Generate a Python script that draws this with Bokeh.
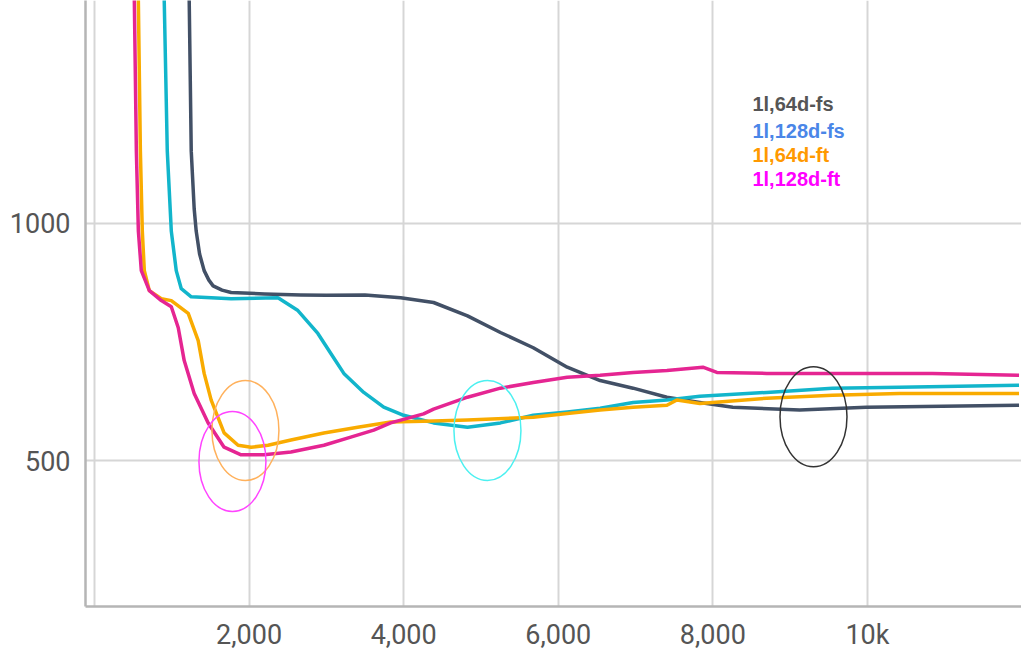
from bokeh.plotting import figure
from bokeh.models import Range1d, FixedTicker, Label
from bokeh.embed import file_html
from bokeh.resources import INLINE

# ---- data ----
dark_x = [1170, 1226, 1252, 1290, 1316, 1360, 1419, 1480, 1535, 1650, 1768, 2200, 2671, 3000, 3500, 3961, 4387, 4826, 5252, 5677, 6116, 6542, 6968, 7406, 7832, 8258, 9123, 9987, 11961]
dark_y = [2000, 1464, 1151, 1030, 983, 935, 900, 880, 868, 859, 854, 851, 849, 848, 849, 843, 833, 805, 770, 738, 697, 669, 653, 634, 623, 613, 607, 613, 617]

cyan_x = [850, 903, 942, 994, 1058, 1123, 1252, 1768, 2374, 2632, 2890, 3058, 3226, 3484, 3742, 4000, 4387, 4826, 5252, 5677, 6116, 6542, 6968, 7406, 7832, 8697, 9548, 10413, 11961]
cyan_y = [2000, 1464, 1151, 983, 900, 862, 845, 841, 843, 816, 768, 726, 684, 644, 613, 596, 580, 571, 580, 596, 603, 611, 623, 628, 636, 644, 653, 655, 659]

orange_x = [520, 568, 594, 619, 645, 710, 865, 994, 1213, 1342, 1419, 1510, 1677, 1858, 2026, 2245, 2542, 2968, 3406, 3832, 4387, 4826, 5677, 6116, 6542, 6968, 7406, 7535, 7832, 8697, 9548, 10413, 11961]
orange_y = [2000, 1464, 1151, 983, 900, 858, 841, 837, 810, 753, 684, 628, 559, 533, 529, 533, 544, 559, 571, 582, 584, 586, 592, 600, 607, 613, 617, 628, 621, 632, 638, 642, 642]

pink_x = [470, 516, 542, 568, 606, 710, 865, 994, 1084, 1161, 1290, 1471, 1677, 1897, 2194, 2542, 2968, 3316, 3613, 3832, 4258, 4387, 4826, 5252, 5677, 6116, 6542, 6968, 7406, 7871, 8052, 8697, 9987, 10839, 11961]
pink_y = [2000, 1464, 1151, 983, 900, 858, 837, 824, 780, 711, 642, 580, 529, 513, 513, 519, 533, 550, 565, 580, 599, 609, 634, 653, 665, 676, 680, 686, 690, 697, 686, 684, 684, 684, 680]

series_names = ["1l,64d-fs", "1l,128d-fs", "1l,64d-ft", "1l,128d-ft"]
line_colors = ["#425066", "#12b5cb", "#f9ab00", "#e52592"]
label_colors = ["#555555", "#4a86e8", "#ff9900", "#ff00ff"]
label_y = [1251, 1194, 1142, 1093]
label_x = 8512

x_ticks = [2000, 4000, 6000, 8000, 10000]
x_tick_labels = ["2,000", "4,000", "6,000", "8,000", "10k"]
y_ticks = [500, 1000]

ell_x = [1953, 1785, 5084, 9302]
ell_y = [564, 499, 564, 593]
ell_colors = ["#ffb15c", "#ff44ff", "#4cf0f0", "#333333"]

# ---- figure ----
p = figure(width=1021, height=653, output_backend="svg", toolbar_location=None,
           x_range=Range1d(-116, 11993), y_range=Range1d(194.3, 1467.5),
           min_border_left=85, min_border_right=0, min_border_top=0, min_border_bottom=47)
p.outline_line_color = None
p.background_fill_color = "white"

# grids
p.xgrid.ticker = FixedTicker(ticks=[0] + x_ticks)
p.ygrid.ticker = FixedTicker(ticks=y_ticks)
for g in (p.xgrid, p.ygrid):
    g.grid_line_color = "#d6d6d6"
    g.grid_line_width = 2

# axes
ax_font = "Roboto"
p.xaxis.ticker = FixedTicker(ticks=x_ticks)
p.xaxis.major_label_overrides = {t: l for t, l in zip(x_ticks, x_tick_labels)}
p.yaxis.ticker = FixedTicker(ticks=y_ticks)
for ax in (p.xaxis, p.yaxis):
    ax.axis_line_color = "#b5b5b5"
    ax.axis_line_width = 2.5
    ax.major_tick_line_color = None
    ax.minor_tick_line_color = None
    ax.major_tick_out = 0
    ax.major_tick_in = 0
    ax.major_label_text_font = ax_font
    ax.major_label_text_font_size = "27px"
    ax.major_label_text_color = "#555555"
p.xaxis.major_label_standoff = 12
p.yaxis.major_label_standoff = 15

# lines
for xs, ys, c in zip([dark_x, cyan_x, orange_x, pink_x], [dark_y, cyan_y, orange_y, pink_y], line_colors):
    p.line(xs, ys, line_color=c, line_width=3.5, line_join="round")

# ellipses (annotations)
p.ellipse(x=ell_x, y=ell_y, width=67, height=100, width_units="screen", height_units="screen",
          fill_color=None, line_color=ell_colors, line_width=1.5)

# legend text
for name, c, ly in zip(series_names, label_colors, label_y):
    p.add_layout(Label(x=label_x, y=ly, text=name, text_color=c, text_font="Liberation Sans",
                       text_font_style="bold", text_font_size="20px", text_baseline="middle"))

# faint zero label
p.add_layout(Label(x=0, y=174, text="0", text_color="#e6e6e6", text_font=ax_font,
                   text_font_size="24px", text_align="center", text_baseline="top"))

open("out.html", "w").write(file_html(p, INLINE))
